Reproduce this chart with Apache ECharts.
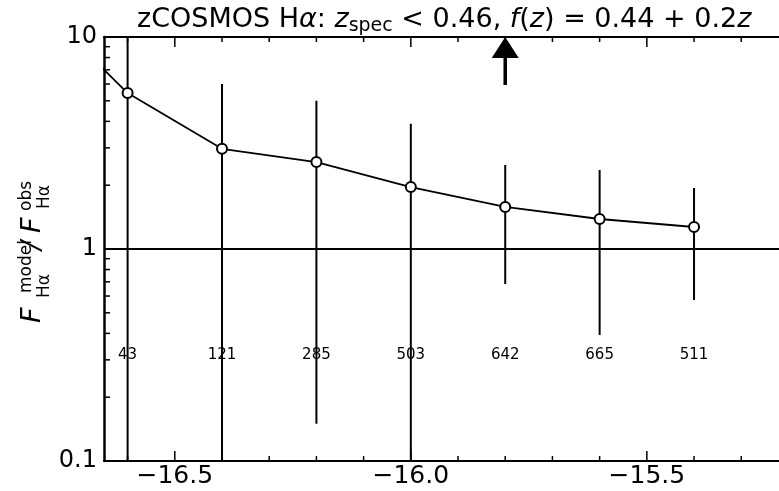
<!DOCTYPE html>
<html>
<head>
<meta charset="utf-8">
<script src="https://cdn.jsdelivr.net/npm/echarts@6/dist/echarts.min.js"></script>
<style>
html,body{margin:0;padding:0;background:#fff;}
#chart{width:779px;height:491px;}
</style>
</head>
<body>
<div id="chart"></div>
<script>
// bins in log flux, ratio model/obs (first bin lies left of the plotted range)
var binCenters = [-16.8, -16.6, -16.4, -16.2, -16.0, -15.8, -15.6, -15.4];
var ratioValues = [15.0, 5.44, 2.97, 2.57, 1.96, 1.58, 1.385, 1.27];
var errLow  = [null, 0.08, 0.08, 0.15, 0.08, 0.684, 0.393, 0.575];
var errHigh = [null, 12, 6.0, 5.0, 3.9, 2.49, 2.36, 1.94];
// number of galaxies per bin
var countBins = [-16.6, -16.4, -16.2, -16.0, -15.8, -15.6, -15.4];
var counts = [43, 121, 285, 503, 642, 665, 511];
// axis ticks
var xMajorTicks = [-16.5, -16.0, -15.5];
var xMinorTicks = [-16.6, -16.4, -16.3, -16.2, -16.1, -15.9, -15.8, -15.7, -15.6, -15.4, -15.3];
var yMinorTicks = [0.2, 0.3, 0.4, 0.5, 0.6, 0.7, 0.8, 0.9, 2, 3, 4, 5, 6, 7, 8, 9];
// arrow marking the flux limit
var arrowX = -15.8;
var arrowFrom = 5.94;

var xMin = -16.65, xMax = -15.22;
var FONT = 'DejaVu Sans';

var chart = echarts.init(document.getElementById('chart'));

var lineData = [];
for (var i = 0; i < binCenters.length; i++) {
    lineData.push([binCenters[i], ratioValues[i]]);
}
var errData = [];
for (var i = 0; i < binCenters.length; i++) {
    if (errLow[i] != null) errData.push([binCenters[i], errLow[i], errHigh[i]]);
}
var countData = [];
for (var i = 0; i < countBins.length; i++) {
    countData.push([countBins[i], counts[i]]);
}
var tickData = [];
xMajorTicks.forEach(function (v) { tickData.push([v, 1, 10]); });
xMinorTicks.forEach(function (v) { tickData.push([v, 1, 5]); });

function fmtX(v) {
    return (v < 0 ? '\u2212' : '') + Math.abs(v).toFixed(1);
}

// y axis label, written bottom-to-top (x along text, y across it)
function ylabText(x, y, txt, size, italic) {
    return {
        type: 'text', x: x, y: y,
        style: {
            text: txt,
            font: (italic ? 'italic ' : '') + size + 'px "DejaVu Sans"',
            fill: '#000',
            verticalAlign: 'middle'
        }
    };
}

var option = {
    backgroundColor: '#fff',
    animation: false,
    title: {
        left: 137,
        top: 3,
        padding: 0,
        text: 'zCOSMOS H{ia|α}: {i|z}{sub|spec} < 0.46, {i|f}({i|z}) = 0.44 + 0.2{i|z}',
        textStyle: {
            fontFamily: FONT,
            fontSize: 27,
            fontWeight: 'normal',
            color: '#000',
            rich: {
                i: {fontFamily: FONT, fontSize: 27, fontStyle: 'italic', color: '#000'},
                ia: {fontFamily: FONT, fontSize: 27, fontStyle: 'italic', color: '#000'},
                sub: {fontFamily: FONT, fontSize: 19, color: '#000', padding: [14, 0, 0, 0]}
            }
        }
    },
    grid: {left: 104, right: 0, top: 37, bottom: 30, containLabel: false},
    xAxis: [{
        type: 'value',
        position: 'bottom',
        min: xMin,
        max: xMax,
        axisLine: {show: true, lineStyle: {color: '#000', width: 2}},
        axisTick: {show: false},
        splitLine: {show: false},
        axisLabel: {
            customValues: xMajorTicks,
            formatter: fmtX,
            fontFamily: FONT,
            fontSize: 25,
            color: '#000',
            margin: 3
        }
    }, {
        type: 'value',
        position: 'top',
        min: xMin,
        max: xMax,
        axisLine: {show: true, lineStyle: {color: '#000', width: 2}},
        axisTick: {show: false},
        axisLabel: {show: false},
        splitLine: {show: false}
    }],
    yAxis: {
        type: 'log',
        logBase: 10,
        min: 0.1,
        max: 10,
        axisLine: {show: true, lineStyle: {color: '#000', width: 2.5}},
        axisTick: {show: true, inside: true, length: 10, lineStyle: {color: '#000', width: 1.5}},
        splitLine: {show: false},
        axisLabel: {
            fontFamily: FONT,
            fontSize: 24,
            color: '#000',
            margin: 7,
            formatter: function (v) { return String(+v.toPrecision(3)); }
        }
    },
    graphic: [{
        type: 'group',
        x: 0,
        y: 323,
        rotation: Math.PI / 2,
        children: [
            ylabText(0, 33, 'F', 27, true),
            ylabText(30, 27, 'model', 17, false),
            ylabText(25, 44.5, 'Hα', 17, false),
            ylabText(73, 33, '/', 27, true),
            ylabText(90, 33, 'F', 27, true),
            ylabText(112, 27, 'obs', 17, false),
            ylabText(114, 44.5, 'Hα', 17, false)
        ]
    }],
    series: [
        {
            // error bars
            type: 'custom',
            z: 2,
            silent: true,
            data: errData,
            renderItem: function (params, api) {
                var cs = params.coordSys;
                var lo = api.coord([api.value(0), api.value(1)]);
                var hi = api.coord([api.value(0), api.value(2)]);
                var y1 = Math.max(cs.y, hi[1]);
                var y2 = Math.min(cs.y + cs.height, lo[1]);
                return {
                    type: 'line',
                    shape: {x1: lo[0], y1: y1, x2: lo[0], y2: y2},
                    style: {stroke: '#000', lineWidth: 2}
                };
            }
        },
        {
            // x ticks, bottom and top spines
            type: 'custom',
            z: 3,
            silent: true,
            data: tickData,
            renderItem: function (params, api) {
                var cs = params.coordSys;
                var p = api.coord([api.value(0), 1]);
                var len = api.value(2);
                var b = cs.y + cs.height, t = cs.y;
                return {
                    type: 'group',
                    children: [
                        {type: 'line', shape: {x1: p[0], y1: b, x2: p[0], y2: b - len}, style: {stroke: '#000', lineWidth: 1.5}},
                        {type: 'line', shape: {x1: p[0], y1: t, x2: p[0], y2: t + len}, style: {stroke: '#000', lineWidth: 1.5}}
                    ]
                };
            }
        },
        {
            // y minor ticks
            type: 'custom',
            z: 3,
            silent: true,
            data: yMinorTicks.map(function (v) { return [xMin, v]; }),
            renderItem: function (params, api) {
                var cs = params.coordSys;
                var p = api.coord([api.value(0), api.value(1)]);
                return {
                    type: 'line',
                    shape: {x1: cs.x, y1: p[1], x2: cs.x + 6, y2: p[1]},
                    style: {stroke: '#000', lineWidth: 1.5}
                };
            }
        },
        {
            // counts per bin
            type: 'custom',
            z: 4,
            silent: true,
            data: countData,
            renderItem: function (params, api) {
                var p = api.coord([api.value(0), 0.316]);
                return {
                    type: 'text',
                    x: p[0],
                    y: p[1],
                    style: {
                        text: String(api.value(1)),
                        font: '15px "DejaVu Sans"',
                        fill: '#000',
                        align: 'center',
                        verticalAlign: 'middle'
                    }
                };
            }
        },
        {
            // arrow
            type: 'custom',
            z: 4,
            silent: true,
            clip: false,
            data: [[arrowX, arrowFrom, 10]],
            renderItem: function (params, api) {
                var base = api.coord([api.value(0), api.value(1)]);
                var tip = api.coord([api.value(0), api.value(2)]);
                var headLen = 21, headHalf = 13.5;
                return {
                    type: 'group',
                    children: [
                        {type: 'line', shape: {x1: base[0], y1: base[1], x2: tip[0], y2: tip[1] + headLen}, style: {stroke: '#000', lineWidth: 3.5}},
                        {type: 'polygon', shape: {points: [[tip[0], tip[1]], [tip[0] - headHalf, tip[1] + headLen], [tip[0] + headHalf, tip[1] + headLen]]}, style: {fill: '#000'}}
                    ]
                };
            }
        },
        {
            type: 'line',
            z: 5,
            clip: true,
            data: lineData,
            symbol: 'circle',
            symbolSize: 10,
            showAllSymbol: true,
            lineStyle: {color: '#000', width: 1.8},
            itemStyle: {color: '#fff', borderColor: '#000', borderWidth: 2},
            emphasis: {disabled: true},
            markLine: {
                silent: true,
                symbol: 'none',
                label: {show: false},
                lineStyle: {color: '#000', width: 1.8, type: 'solid'},
                data: [{yAxis: 1}]
            }
        }
    ]
};

chart.setOption(option);
</script>
</body>
</html>
